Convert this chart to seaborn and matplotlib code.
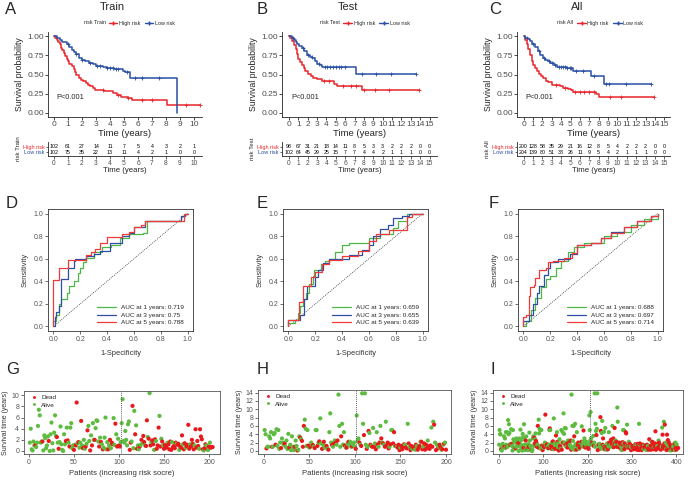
import numpy as np
import pandas as pd
import matplotlib
matplotlib.use("Agg")
import matplotlib.pyplot as plt
from matplotlib.lines import Line2D
import seaborn as sns

sns.set_theme(style="ticks")
plt.rcParams['font.family'] = ['Liberation Sans', 'DejaVu Sans']

W, H = 690, 480
KM_RED, KM_BLUE = '#E8262B', '#2A4FA3'
ROC_GREEN, ROC_BLUE, ROC_RED = '#4DB848', '#2E4FA3', '#F03A3A'
DOT_RED, DOT_GREEN = '#E8191C', '#5DBB3F'
TXT = '#4D4D4D'

# ---------------- Kaplan-Meier data (time of drop, survival after drop) ----------------
train_high_t = [0, 0.1, 0.2, 0.3, 0.4, 0.5, 0.6, 0.7, 0.8, 0.9, 1.0, 1.1, 1.25, 1.4, 1.5, 1.6, 1.75,
                1.9, 2.1, 2.3, 2.45, 2.6, 2.8, 2.95, 3.6, 4.2, 4.5, 4.8, 5.3, 5.6, 8.05]
train_high_s = [1.0, 0.98, 0.95, 0.92, 0.89, 0.85, 0.82, 0.78, 0.74, 0.70, 0.67, 0.64, 0.61, 0.57,
                0.53, 0.49, 0.46, 0.43, 0.41, 0.39, 0.37, 0.35, 0.32, 0.30, 0.29, 0.26, 0.24, 0.21,
                0.20, 0.17, 0.11]
train_high_end = 10.45
train_high_cens = [3.5, 4.6, 5.3, 6.3, 7.0, 9.4, 10.4]
train_low_t = [0, 0.2, 0.4, 0.6, 0.9, 1.1, 1.3, 1.45, 1.6, 1.8, 2.0, 2.2, 2.5, 2.8, 3.0, 3.5, 3.8,
               4.3, 4.9, 5.1, 5.45, 8.75]
train_low_s = [1.0, 0.98, 0.95, 0.92, 0.89, 0.86, 0.82, 0.79, 0.76, 0.72, 0.69, 0.67, 0.65, 0.63,
               0.61, 0.60, 0.58, 0.57, 0.55, 0.53, 0.46, 0.0]
train_low_end = 8.75
train_low_cens = [1.0, 1.6, 2.0, 2.6, 3.1, 3.3, 3.8, 4.0, 4.2, 4.4, 4.6, 5.2, 5.8, 6.3, 7.5]

test_high_t = [0, 0.15, 0.3, 0.5, 0.7, 0.85, 1.0, 1.2, 1.4, 1.6, 1.75, 2.0, 2.3, 2.6, 3.0, 3.5,
               4.05, 4.75, 5.1, 7.75]
test_high_s = [1.0, 0.97, 0.93, 0.88, 0.83, 0.76, 0.70, 0.66, 0.62, 0.58, 0.55, 0.51, 0.48, 0.46,
               0.44, 0.42, 0.41, 0.38, 0.35, 0.30]
test_high_end = 13.9
test_high_cens = [3.7, 4.3, 5.8, 6.6, 7.2, 8.0, 9.2, 10.7, 13.9]
test_low_t = [0, 0.3, 0.5, 0.7, 0.85, 1.1, 1.4, 1.6, 1.9, 2.2, 2.45, 2.8, 3.0, 3.3, 3.5, 7.2]
test_low_s = [1.0, 0.98, 0.95, 0.92, 0.90, 0.87, 0.84, 0.80, 0.75, 0.73, 0.71, 0.68, 0.64, 0.62,
              0.60, 0.51]
test_low_end = 13.6
test_low_cens = [0.4, 1.5, 2.0, 2.4, 3.2, 3.8, 4.1, 4.4, 4.7, 5.0, 5.3, 5.6, 6.0, 7.8, 9.3, 10.9, 13.6]

all_high_t = [0, 0.1, 0.2, 0.35, 0.5, 0.7, 0.85, 1.05, 1.25, 1.45, 1.6, 1.85, 2.1, 2.4, 2.65, 3.0,
              3.4, 3.9, 4.25, 4.7, 5.0, 5.3, 7.7, 8.0]
all_high_s = [1.0, 0.98, 0.95, 0.90, 0.83, 0.75, 0.68, 0.62, 0.58, 0.54, 0.51, 0.48, 0.45, 0.42,
              0.40, 0.37, 0.36, 0.35, 0.32, 0.31, 0.30, 0.27, 0.25, 0.21]
all_high_end = 13.9
all_high_cens = [3.5, 4.4, 5.5, 6.0, 6.4, 7.0, 7.5, 9.2, 10.4, 13.9]
all_low_t = [0, 0.2, 0.45, 0.7, 0.95, 1.25, 1.5, 1.8, 2.05, 2.3, 2.6, 2.85, 3.2, 3.55, 4.6, 5.3,
             5.8, 7.2, 8.6]
all_low_s = [1.0, 0.98, 0.96, 0.94, 0.90, 0.86, 0.81, 0.75, 0.72, 0.69, 0.67, 0.65, 0.62, 0.60,
             0.58, 0.55, 0.54, 0.48, 0.38]
all_low_end = 13.6
all_low_cens = [0.4, 1.0, 1.6, 2.2, 2.7, 3.0, 3.4, 3.8, 4.0, 4.2, 4.4, 4.6, 4.9, 5.1, 5.6, 6.3, 7.5,
                8.8, 9.1, 10.9, 13.6]

# number at risk
train_risk_high = [102, 61, 27, 14, 11, 7, 5, 4, 3, 2, 1]
train_risk_low = [102, 75, 35, 22, 13, 11, 4, 2, 1, 0, 0]
test_risk_high = [98, 67, 31, 21, 18, 14, 11, 8, 5, 3, 3, 2, 2, 2, 0, 0]
test_risk_low = [102, 64, 45, 29, 25, 15, 7, 7, 4, 4, 2, 1, 1, 1, 0, 0]
all_risk_high = [200, 128, 58, 35, 29, 21, 16, 12, 8, 5, 4, 2, 2, 2, 0, 0]
all_risk_low = [204, 139, 80, 51, 38, 26, 11, 9, 5, 4, 2, 1, 1, 1, 0, 0]

# ---------------- ROC data (fpr, tpr) ----------------
d_green = [(0, 0), (0, 0.05), (0.02, 0.10), (0.04, 0.20), (0.06, 0.24), (0.10, 0.30), (0.12, 0.36),
           (0.15, 0.40), (0.18, 0.47), (0.20, 0.52), (0.22, 0.57), (0.24, 0.61), (0.30, 0.66),
           (0.36, 0.70), (0.43, 0.72), (0.50, 0.78), (0.56, 0.82), (0.67, 0.83), (0.70, 0.93),
           (0.95, 0.98), (0.98, 1.0), (1.0, 1.0)]
d_blue = [(0, 0), (0.01, 0.08), (0.02, 0.13), (0.04, 0.18), (0.06, 0.42), (0.11, 0.52), (0.15, 0.58),
          (0.16, 0.60), (0.24, 0.62), (0.30, 0.64), (0.35, 0.67), (0.42, 0.74), (0.51, 0.80),
          (0.56, 0.83), (0.60, 0.88), (0.68, 0.93), (0.95, 0.98), (0.98, 1.0), (1.0, 1.0)]
d_red = [(0, 0), (0, 0.41), (0.04, 0.52), (0.11, 0.59), (0.24, 0.63), (0.28, 0.66), (0.31, 0.69),
         (0.35, 0.74), (0.40, 0.79), (0.51, 0.82), (0.56, 0.84), (0.60, 0.88), (0.65, 0.90),
         (0.68, 0.93), (0.97, 0.97), (0.97, 1.0), (1.0, 1.0)]
e_green = [(0, 0), (0, 0.03), (0.05, 0.06), (0.07, 0.12), (0.09, 0.18), (0.11, 0.24), (0.13, 0.30),
           (0.15, 0.38), (0.18, 0.45), (0.19, 0.50), (0.24, 0.55), (0.27, 0.58), (0.30, 0.60),
           (0.35, 0.66), (0.40, 0.72), (0.45, 0.74), (0.60, 0.78), (0.68, 0.82), (0.78, 0.87),
           (0.82, 0.93), (0.88, 1.0), (1.0, 1.0)]
e_blue = [(0, 0), (0, 0.06), (0.09, 0.10), (0.12, 0.24), (0.14, 0.36), (0.20, 0.44), (0.22, 0.50),
          (0.26, 0.56), (0.30, 0.60), (0.45, 0.63), (0.55, 0.68), (0.60, 0.72), (0.63, 0.80),
          (0.68, 0.86), (0.74, 0.90), (0.78, 0.96), (0.85, 0.98), (0.90, 1.0), (1.0, 1.0)]
e_red = [(0, 0), (0, 0.06), (0.08, 0.22), (0.11, 0.36), (0.17, 0.44), (0.20, 0.48), (0.25, 0.55),
         (0.30, 0.59), (0.40, 0.62), (0.52, 0.67), (0.60, 0.76), (0.65, 0.82), (0.75, 0.85),
         (0.88, 0.88), (0.88, 0.97), (0.92, 1.0), (1.0, 1.0)]
f_green = [(0, 0), (0.02, 0.05), (0.06, 0.15), (0.09, 0.25), (0.13, 0.35), (0.17, 0.42), (0.20, 0.45),
           (0.24, 0.52), (0.28, 0.58), (0.33, 0.66), (0.38, 0.70), (0.45, 0.74), (0.60, 0.80),
           (0.70, 0.84), (0.80, 0.90), (0.90, 0.95), (1.0, 1.0)]
f_blue = [(0, 0), (0, 0.05), (0.04, 0.10), (0.07, 0.20), (0.10, 0.30), (0.12, 0.36), (0.15, 0.46),
          (0.18, 0.52), (0.20, 0.57), (0.26, 0.60), (0.35, 0.64), (0.40, 0.72), (0.50, 0.74),
          (0.58, 0.78), (0.65, 0.84), (0.75, 0.88), (0.85, 0.93), (0.95, 0.98), (1.0, 1.0)]
f_red = [(0, 0), (0, 0.08), (0.02, 0.10), (0.04, 0.27), (0.05, 0.35), (0.08, 0.37), (0.09, 0.43),
         (0.12, 0.50), (0.17, 0.52), (0.18, 0.57), (0.22, 0.58), (0.30, 0.61), (0.36, 0.65),
         (0.40, 0.72), (0.50, 0.74), (0.58, 0.78), (0.65, 0.83), (0.75, 0.88), (0.85, 0.93),
         (0.95, 0.98), (1.0, 1.0)]
auc_train = ['0.719', '0.75', '0.788']
auc_test = ['0.659', '0.655', '0.639']
auc_all = ['0.688', '0.697', '0.714']
roc_years = [1, 3, 5]

# ---------------- risk score scatter data (patients ordered by risk) ----------------
train_time = [1.5, 4.0, 0.3, 0.1, 1.7, 1.0, 1.0, 0.7, 1.5, 4.5,
              7.4, 6.4, 1.5, 1.7, 1.7, 0.1, 2.8, 2.3, 0.5, 1.0,
              2.6, 1.8, 0.0, 3.0, 5.1, 1.4, 0.1, 3.3, 6.4, 2.7,
              2.5, 1.5, 0.4, 1.6, 4.4, 1.2, 0.2, 0.0, 3.0, 1.2,
              1.8, 4.2, 1.9, 1.5, 0.8, 4.2, 5.0, 0.5, 1.0, 0.2,
              1.1, 1.0, 8.7, 1.4, 1.6, 0.6, 1.5, 5.4, 1.0, 0.5,
              2.0, 0.4, 0.8, 1.3, 3.7, 4.5, 1.8, 0.1, 2.8, 1.0,
              5.0, 2.0, 2.0, 4.1, 5.5, 5.4, 1.7, 0.8, 2.4, 1.6,
              1.2, 0.3, 0.6, 2.4, 6.0, 0.3, 1.6, 0.3, 1.0, 2.0,
              0.5, 1.5, 1.2, 5.9, 1.1, 4.9, 3.0, 0.8, 2.2, 1.0,
              0.8, 1.6, 5.0, 9.3, 1.8, 1.5, 3.6, 2.0, 1.0, 4.8,
              5.3, 0.2, 1.5, 1.7, 8.1, 0.5, 7.2, 3.0, 4.6, 0.4,
              1.0, 0.3, 0.8, 1.1, 2.0, 1.4, 2.7, 1.6, 1.0, 0.9,
              5.5, 2.5, 2.2, 10.4, 1.0, 1.6, 1.9, 1.2, 0.2, 2.1,
              1.8, 0.4, 1.0, 4.2, 6.3, 0.8, 2.2, 1.7, 1.0, 0.4,
              1.1, 0.9, 0.6, 1.5, 1.2, 0.3, 1.7, 0.2, 1.6, 0.7,
              0.9, 0.5, 1.5, 1.3, 1.1, 1.3, 0.2, 0.8, 0.6, 2.8,
              1.2, 0.3, 1.4, 0.6, 0.9, 1.1, 4.7, 0.4, 1.2, 0.8,
              2.0, 1.3, 0.3, 1.0, 3.9, 0.6, 1.8, 0.9, 0.4, 3.9,
              2.6, 2.1, 0.3, 0.1, 0.5, 1.2, 1.0, 0.3, 0.2, 0.8,
              1.5, 0.6, 0.7, 0.7]
train_status = ("AAAAAADAAA AAAADAAAAA ADAAAAAAAA DADAAAAAAA DADADAAAAD ADDADAADAD AADADAADAD "
                "AADAAAADAD ADAAAAADAD ADDAADADAD DAAAAAAAAA ADDADAADAD AADADADDAD DADADADDAD "
                "ADDDADADAD DDDADDDDAD DDDADDADDD ADDADDDDAD DDDADDDDAD DDDADDADAD ADDD")
test_time = [5.0, 4.0, 0.6, 1.0, 1.0, 3.5, 3.0, 4.5, 1.0, 1.0,
             4.0, 4.3, 1.5, 5.2, 1.2, 5.0, 0.5, 2.0, 0.7, 3.0,
             2.0, 1.5, 1.8, 1.0, 2.5, 0.5, 4.1, 0.8, 1.5, 0.2,
             3.5, 1.0, 0.2, 1.0, 2.5, 1.2, 0.1, 0.3, 3.5, 3.2,
             2.8, 2.4, 1.0, 6.0, 7.5, 5.3, 1.2, 5.0, 1.3, 0.8,
             1.0, 2.0, 1.5, 1.4, 1.0, 0.7, 5.0, 5.0, 1.2, 2.0,
             2.3, 7.8, 1.8, 0.5, 1.5, 2.2, 0.8, 1.2, 1.2, 0.5,
             0.3, 4.5, 9.0, 2.0, 1.4, 1.0, 1.8, 2.5, 2.0, 1.5,
             2.5, 13.5, 6.0, 1.0, 3.5, 6.5, 1.5, 4.5, 1.3, 0.8,
             0.8, 1.8, 2.2, 1.5, 2.2, 1.0, 1.1, 1.5, 2.0, 1.0,
             0.5, 8.5, 2.5, 3.0, 2.0, 1.5, 1.2, 13.8, 6.5, 3.8,
             13.8, 1.5, 0.5, 1.0, 4.8, 4.3, 1.5, 1.2, 1.0, 5.5,
             1.0, 1.8, 0.4, 4.5, 1.5, 1.0, 2.0, 6.0, 3.0, 2.0,
             1.8, 1.5, 1.0, 7.0, 1.3, 2.0, 0.6, 1.0, 1.6, 5.0,
             5.0, 1.8, 4.5, 1.2, 1.2, 1.0, 0.8, 1.5, 0.2, 0.8,
             1.2, 0.4, 1.0, 1.6, 1.5, 0.8, 0.6, 6.5, 1.8, 1.0,
             0.2, 1.2, 0.5, 0.9, 0.6, 0.3, 1.5, 1.2, 0.3, 0.8,
             1.2, 2.2, 2.2, 0.4, 1.0, 1.8, 0.3, 1.5, 0.6, 2.5,
             1.1, 0.5, 1.3, 5.6, 1.0, 7.0, 6.3, 2.0, 0.2, 1.5,
             0.6, 1.0, 1.5, 0.9, 0.3, 0.4, 1.5, 1.8, 2.0, 0.3]
test_status = ("AADAAAAADA AADAAAAADA AADAAAADAA AAADAADAAD ADDDAAAADA DAADADAADA DAADADAADA "
               "DAAADADADA DAAADAAADA DADAAADAAA DAAADADAAD AADADADADA DADADADADA DADADDDADA "
               "ADDADADDDA DDDDADDADA DDADDADADD DADDADDDDA DDDADADADA DADDADADAD")
cutoffs = [102, 101, 205]


def px(l, t, r, b):
    return [l / W, 1 - b / H, (r - l) / W, (b - t) / H]


def step_value(t, s, x):
    i = np.searchsorted(t, x, side='right') - 1
    return s[i]


fig = plt.figure(figsize=(6.9, 4.8), dpi=100)

# ---------------- row 1: KM curves ----------------
km_sets = [
    dict(name='Train', letter='A', lx=5, tx=112, rx=84, box=(48, 32, 202, 117), xlim=(-0.43, 10.57),
         xmax=10, hi=(train_high_t, train_high_s, train_high_end, train_high_cens),
         lo=(train_low_t, train_low_s, train_low_end, train_low_cens),
         rh=train_risk_high, rl=train_risk_low),
    dict(name='Test', letter='B', lx=257, tx=348, rx=320, box=(282, 32, 437, 117), xlim=(-0.75, 15.8),
         xmax=15, hi=(test_high_t, test_high_s, test_high_end, test_high_cens),
         lo=(test_low_t, test_low_s, test_low_end, test_low_cens),
         rh=test_risk_high, rl=test_risk_low),
    dict(name='All', letter='C', lx=489, tx=577, rx=557, box=(517, 32, 670, 117), xlim=(-0.7, 15.6),
         xmax=15, hi=(all_high_t, all_high_s, all_high_end, all_high_cens),
         lo=(all_low_t, all_low_s, all_low_end, all_low_cens),
         rh=all_risk_high, rl=all_risk_low),
]

for k in km_sets:
    l, t, r, b = k['box']
    ax = fig.add_axes(px(l, t, r, b))
    rows = []
    for label, (tt, ss, end, cens) in [('High risk', k['hi']), ('Low risk', k['lo'])]:
        tt2, ss2 = list(tt), list(ss)
        if tt2[-1] < end:
            tt2.append(end)
            ss2.append(ss2[-1])
        rows.append(pd.DataFrame({'time': tt2, 'surv': ss2, 'risk': label}))
    df = pd.concat(rows, ignore_index=True)
    sns.lineplot(data=df, x='time', y='surv', hue='risk', palette={'High risk': KM_RED, 'Low risk': KM_BLUE},
                 estimator=None, sort=False, drawstyle='steps-post', linewidth=1.1, legend=False, ax=ax)
    for (tt, ss, end, cens), col in [(k['hi'], KM_RED), (k['lo'], KM_BLUE)]:
        cy = [step_value(np.array(tt), np.array(ss), c) for c in cens]
        sns.scatterplot(x=cens, y=cy, marker='+', color=col, s=12, linewidth=0.6, ax=ax, legend=False)
    ax.set_xlim(*k['xlim'])
    ax.set_ylim(-0.052, 1.052)
    ax.set_xticks(range(0, k['xmax'] + 1))
    ax.set_yticks([0, 0.25, 0.5, 0.75, 1.0])
    ax.set_yticklabels(['0.00', '0.25', '0.50', '0.75', '1.00'])
    ax.tick_params(labelsize=6, length=2, width=0.5, pad=1, colors='black', labelcolor=TXT)
    ax.set_xlabel('Time (years)', fontsize=6.8, labelpad=0.5)
    ax.set_ylabel('Survival probability', fontsize=6.3, labelpad=2)
    sns.despine(ax=ax)
    for sp in ax.spines.values():
        sp.set_linewidth(0.6)
    ax.text(0.2, 0.2, 'P<0.001', fontsize=5.3, ha='left', va='center')
    handles = [Line2D([], [], color=KM_RED, marker='+', ms=3, lw=1, label='High risk'),
               Line2D([], [], color=KM_BLUE, marker='+', ms=3, lw=1, label='Low risk')]
    ax.legend(handles=handles, loc='center', bbox_to_anchor=(0.61, 1.105), ncol=2, frameon=False,
              fontsize=3.9, handlelength=1.6, handletextpad=0.3, columnspacing=0.8)
    fig.text(k['rx'] / W, 1 - 23 / H, 'risk ' + k['name'], fontsize=3.9, va='center')
    fig.text(k['tx'] / W, 1 - 7 / H, k['name'], fontsize=8, ha='center', va='center')
    fig.text(k['lx'] / W, 1 - 10 / H, k['letter'], fontsize=12, va='center')

    # risk table
    tab = fig.add_axes(px(l, 142, r, 155.5))
    years = list(range(0, k['xmax'] + 1))
    for yv, counts in [(2, k['rh']), (1, k['rl'])]:
        for yr, n in zip(years, counts):
            tab.text(yr, yv, str(n), fontsize=3.8, ha='center', va='center', color='black')
    tab.set_xlim(*k['xlim'])
    tab.set_ylim(0.45, 2.8)
    tab.set_xticks(years)
    tab.set_yticks([2, 1])
    tab.set_yticklabels(['High risk', 'Low risk'])
    for lab, col in zip(tab.get_yticklabels(), [KM_RED, KM_BLUE]):
        lab.set_color(col)
    tab.tick_params(axis='y', labelsize=4, length=1.5, width=0.5, pad=1)
    tab.tick_params(axis='x', labelsize=4.8, length=2, width=0.5, pad=1, labelcolor=TXT)
    tab.set_xlabel('Time (years)', fontsize=5.6, labelpad=0.3)
    tab.set_ylabel('risk ' + k['name'], fontsize=4.4, labelpad=1)
    sns.despine(ax=tab)
    for sp in tab.spines.values():
        sp.set_linewidth(0.6)

# ---------------- row 2: ROC curves ----------------
roc_sets = [
    dict(letter='D', lx=6, box=(48, 209, 193, 331), curves=[d_green, d_blue, d_red], auc=auc_train),
    dict(letter='E', lx=257, box=(283, 209, 428, 331), curves=[e_green, e_blue, e_red], auc=auc_test),
    dict(letter='F', lx=489, box=(518, 209, 663, 331), curves=[f_green, f_blue, f_red], auc=auc_all),
]
for k in roc_sets:
    ax = fig.add_axes(px(*k['box']))
    ax.plot([0, 1], [0, 1], ls=(0, (1.5, 1.5)), color='#333333', lw=0.5)
    for pts, col, yr, auc in zip(k['curves'], [ROC_GREEN, ROC_BLUE, ROC_RED], roc_years, k['auc']):
        fpr = [p[0] for p in pts]
        tpr = [p[1] for p in pts]
        sns.lineplot(x=fpr, y=tpr, color=col, estimator=None, sort=False, drawstyle='steps-post',
                     linewidth=0.9, ax=ax, label=f'AUC at {yr} years: {auc}')
    ax.set_xlim(-0.04, 1.04)
    ax.set_ylim(-0.04, 1.04)
    ticks = [0, 0.2, 0.4, 0.6, 0.8, 1.0]
    ax.set_xticks(ticks)
    ax.set_yticks(ticks)
    ax.set_xticklabels([f'{v:.1f}' for v in ticks])
    ax.set_yticklabels([f'{v:.1f}' for v in ticks])
    ax.tick_params(labelsize=5, length=2, width=0.5, pad=1.5, labelcolor='#555555', colors='#333333')
    ax.set_xlabel('1-Specificity', fontsize=5.4, labelpad=5, color='#333333')
    ax.set_ylabel('Sensitivity', fontsize=5.4, labelpad=3, color='#333333')
    for sp in ax.spines.values():
        sp.set_linewidth(0.6)
        sp.set_color('#333333')
    ax.legend(loc='lower right', bbox_to_anchor=(0.98, 0.0), frameon=False, fontsize=4.6,
              handlelength=3.0, handletextpad=0.8, labelspacing=0.3)
    fig.text(k['lx'] / W, 1 - 203 / H, k['letter'], fontsize=12, va='center')

# ---------------- row 3: risk score scatter ----------------
all_time = []
all_status = ''
ts, hs = train_status.replace(' ', ''), test_status.replace(' ', '')
for i in range(len(train_time)):
    all_time.append(train_time[i])
    all_status += ts[i]
    if i < len(test_time):
        all_time.append(test_time[i])
        all_status += hs[i]

sc_sets = [
    dict(letter='G', lx=6, box=(24, 391, 220, 454), xlim=(-5.5, 212.2), ylim=(-0.54, 10.77),
         yt=range(0, 11, 2), xt=[0, 50, 100, 150, 200], time=train_time, status=ts, cut=cutoffs[0]),
    dict(letter='H', lx=257, box=(258, 390, 451, 454), xlim=(-6.3, 205.5), ylim=(-0.73, 14.6),
         yt=range(0, 15, 2), xt=[0, 50, 100, 150, 200], time=test_time, status=hs, cut=cutoffs[1]),
    dict(letter='I', lx=490, box=(493, 390, 683, 454), xlim=(-12.9, 415), ylim=(-0.73, 14.6),
         yt=range(0, 15, 2), xt=[0, 100, 200, 300, 400], time=all_time, status=all_status, cut=cutoffs[2]),
]
for k in sc_sets:
    ax = fig.add_axes(px(*k['box']))
    df = pd.DataFrame({'patient': np.arange(1, len(k['time']) + 1), 'time': k['time'],
                       'status': ['Dead' if c == 'D' else 'Alive' for c in k['status']]})
    sns.scatterplot(data=df, x='patient', y='time', hue='status', hue_order=['Dead', 'Alive'],
                    palette={'Dead': DOT_RED, 'Alive': DOT_GREEN}, s=9, linewidth=0, ax=ax)
    ax.axvline(k['cut'], ls=(0, (1, 1)), color='#666666', lw=0.7)
    ax.set_xlim(*k['xlim'])
    ax.set_ylim(*k['ylim'])
    ax.set_xticks(k['xt'])
    ax.set_yticks(list(k['yt']))
    ax.tick_params(labelsize=5, length=2, width=0.5, pad=1.5, labelcolor='#555555', colors='#333333')
    ax.set_xlabel('Patients (increasing risk socre)', fontsize=5.5, labelpad=3, color='#333333')
    ax.set_ylabel('Survival time (years)', fontsize=5, labelpad=1.5, color='#333333')
    for sp in ax.spines.values():
        sp.set_linewidth(0.6)
        sp.set_color('#555555')
    ax.legend(loc='upper left', bbox_to_anchor=(-0.01, 1.03), frameon=False, fontsize=4.6, title=None,
              markerscale=0.7, handletextpad=0.1, labelspacing=0.3, borderpad=0.4)
    fig.text(k['lx'] / W, 1 - 369 / H, k['letter'], fontsize=12, va='center')

fig.savefig('out.png', dpi=100)
